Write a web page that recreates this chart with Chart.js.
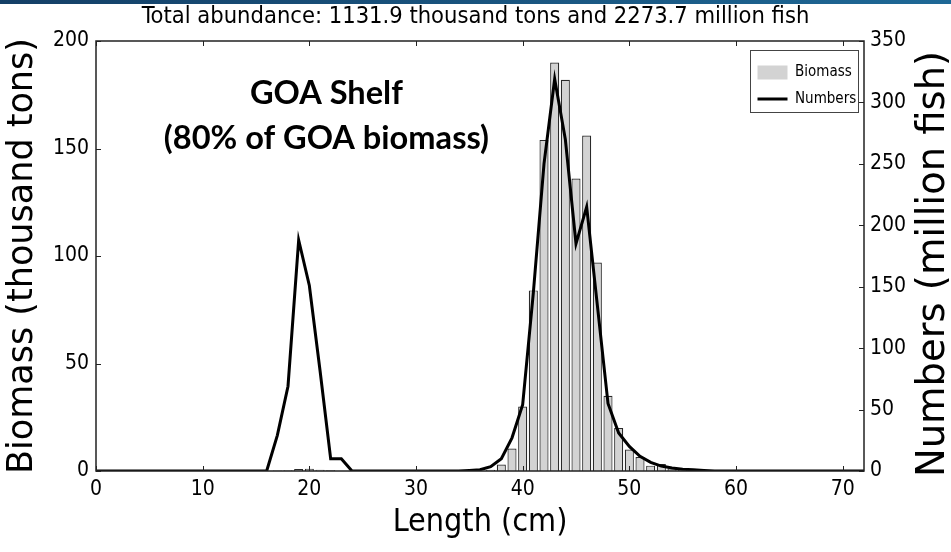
<!DOCTYPE html>
<html>
<head>
<meta charset="utf-8">
<script src="https://cdn.jsdelivr.net/npm/chart.js@4.4.0/dist/chart.umd.min.js"></script>
<style>
  html, body { margin: 0; padding: 0; background: #fff; }
  #wrap { position: absolute; left: 0; top: 0; width: 951px; height: 552px; }
  #topbar { position: absolute; left: 0; top: 0; width: 951px; height: 4px;
            background: linear-gradient(to right, #143f66, #1e6896); }
</style>
</head>
<body>
<div id="wrap"><canvas id="chart" width="951" height="552"></canvas></div>
<div id="topbar"></div>
<script>
// length bins (cm)
const lengths = [
  0, 1, 2, 3, 4, 5, 6, 7, 8, 9, 10, 11, 12, 13, 14, 15, 16, 17, 18, 19,
  20, 21, 22, 23, 24, 25, 26, 27, 28, 29, 30, 31, 32, 33, 34, 35, 36, 37, 38, 39,
  40, 41, 42, 43, 44, 45, 46, 47, 48, 49, 50, 51, 52, 53, 54, 55, 56, 57, 58, 59,
  60, 61, 62, 63, 64, 65, 66, 67, 68, 69, 70, 71, 72
];

// biomass (thousand tons) per length bin
const biomass = [
  0, 0, 0, 0, 0, 0, 0, 0, 0, 0, 0, 0, 0, 0, 0, 0, 0, 0.2, 0.4, 0.9,
  1.1, 0.6, 0.3, 0, 0, 0, 0, 0, 0, 0, 0, 0, 0, 0, 0, 0, 0, 0.6, 3, 10.5,
  30, 84, 154, 190, 182, 136, 156, 97, 35, 20, 10, 6.5, 2.5, 3.3, 1.2, 0.6, 0.3, 0, 0, 0,
  0, 0, 0, 0, 0, 0, 0, 0, 0, 0, 0, 0, 0
];

// numbers (million fish) per length bin
const numbers = [
  0, 0, 0, 0, 0, 0, 0, 0, 0, 0, 0, 0, 0, 0, 0, 0, 0, 29, 69, 188,
  151, 82, 10, 10, 0, 0, 0, 0, 0, 0, 0, 0, 0, 0, 0, 0.5, 1, 3.5, 10, 27,
  54, 145, 250, 319, 270, 185, 215, 135, 55, 31, 20, 12, 7, 4, 2.5, 1.5, 1, 0.5, 0, 0,
  0, 0, 0, 0, 0, 0, 0, 0, 0, 0, 0, 0, 0
];

const xTicks = [0, 10, 20, 30, 40, 50, 60, 70];
const biomassTicks = [0, 50, 100, 150, 200];
const numbersTicks = [0, 50, 100, 150, 200, 250, 300, 350];

const titleText = 'Total abundance: 1131.9 thousand tons and 2273.7 million fish';
const noteLines = ['GOA Shelf', '(80% of GOA biomass)'];

const COND = "'DejaVu Sans Condensed', 'DejaVu Sans', sans-serif";
const SANS = "'DejaVu Sans', sans-serif";

// frame round the plot and matplotlib-style inward ticks
const frameTicks = {
  id: 'frameTicks',
  afterDatasetsDraw(chart) {
    const ctx = chart.ctx, a = chart.chartArea;
    const x = chart.scales.x, y = chart.scales.y, y2 = chart.scales.y2;
    ctx.save();
    ctx.strokeStyle = '#222';
    ctx.lineWidth = 1.5;
    ctx.strokeRect(a.left, a.top, a.right - a.left, a.bottom - a.top);
    ctx.lineWidth = 1;
    ctx.beginPath();
    x.ticks.forEach(t => {
      const px = Math.round(x.getPixelForValue(t.value)) + 0.5;
      ctx.moveTo(px, a.bottom); ctx.lineTo(px, a.bottom - 5);
      ctx.moveTo(px, a.top); ctx.lineTo(px, a.top + 5);
    });
    y.ticks.forEach(t => {
      const py = Math.round(y.getPixelForValue(t.value)) + 0.5;
      ctx.moveTo(a.left, py); ctx.lineTo(a.left + 5, py);
    });
    y2.ticks.forEach(t => {
      const py = Math.round(y2.getPixelForValue(t.value)) + 0.5;
      ctx.moveTo(a.right, py); ctx.lineTo(a.right - 5, py);
    });
    ctx.stroke();
    ctx.restore();
  }
};

// right axis title reads bottom to top like the left one
const rightTitle = {
  id: 'rightTitle',
  afterDraw(chart) {
    const ctx = chart.ctx;
    ctx.save();
    ctx.translate(934, 264);
    ctx.rotate(-Math.PI / 2);
    ctx.font = '38.5px ' + SANS;
    ctx.fillStyle = '#000';
    ctx.textAlign = 'center';
    ctx.textBaseline = 'middle';
    ctx.fillText('Numbers (million fish)', 0, 0);
    ctx.restore();
  }
};

// bold note placed in data coordinates
const note = {
  id: 'note',
  afterDraw(chart) {
    const ctx = chart.ctx, x = chart.scales.x, y = chart.scales.y;
    const cx = x.getPixelForValue(21.6);
    ctx.save();
    ctx.font = 'bold 100px Lato, sans-serif';
    const size = 100 * 325 / ctx.measureText(noteLines[1]).width;
    ctx.font = 'bold ' + size.toFixed(1) + 'px Lato, sans-serif';
    ctx.fillStyle = '#000';
    ctx.textAlign = 'center';
    ctx.textBaseline = 'middle';
    ctx.fillText(noteLines[0], cx, y.getPixelForValue(175.5));
    ctx.fillText(noteLines[1], cx, y.getPixelForValue(154.5));
    ctx.restore();
  }
};

// move the legend to the top right corner of the plot and box it
const BOX_W = 108, BOX_H = 62;
const legendBox = {
  id: 'legendBox',
  afterLayout(chart) {
    const lg = chart.legend, a = chart.chartArea;
    const w = lg.width, h = lg.height;
    lg.left = a.right - 6 - BOX_W - 4;
    lg.right = lg.left + w;
    lg.top = a.top + 12.5;
    lg.bottom = lg.top + h;
  },
  afterDraw(chart) {
    const ctx = chart.ctx, a = chart.chartArea;
    ctx.save();
    ctx.strokeStyle = '#444';
    ctx.lineWidth = 1;
    ctx.strokeRect(Math.round(a.right - 6 - BOX_W) + 0.5, Math.round(a.top + 9) + 0.5, BOX_W, BOX_H);
    ctx.restore();
  }
};

const ctx = document.getElementById('chart').getContext('2d');
new Chart(ctx, {
  type: 'bar',
  data: {
    datasets: [
      {
        type: 'bar',
        label: 'Biomass',
        data: lengths.map((l, i) => ({ x: l, y: biomass[i] })),
        backgroundColor: '#d3d3d3',
        borderColor: '#2a2a2a',
        borderWidth: 1.2,
        barPercentage: 0.85,
        categoryPercentage: 1.0,
        yAxisID: 'y',
        order: 2
      },
      {
        type: 'line',
        label: 'Numbers',
        data: lengths.map((l, i) => ({ x: l, y: numbers[i] })),
        borderColor: '#000',
        backgroundColor: '#000',
        borderWidth: 3,
        pointRadius: 0,
        tension: 0,
        fill: false,
        yAxisID: 'y2',
        order: 1
      }
    ]
  },
  options: {
    responsive: false,
    animation: false,
    layout: { padding: 0 },
    plugins: {
      title: {
        display: true,
        text: titleText,
        color: '#000',
        font: { family: COND, size: 23.5, weight: 'normal' },
        padding: { top: 3, bottom: 9.8 }
      },
      legend: {
        position: 'chartArea',
        align: 'start',
        labels: {
          usePointStyle: true,
          pointStyleWidth: 30,
          boxHeight: 14,
          padding: 11.5,
          color: '#000',
          font: { family: COND, size: 15 },
          sort: (a, b) => a.datasetIndex - b.datasetIndex,
          generateLabels(chart) {
            const items = Chart.defaults.plugins.legend.labels.generateLabels(chart);
            items.forEach(it => {
              if (it.datasetIndex === 0) {
                it.pointStyle = 'rect';
                it.fillStyle = '#d3d3d3';
                it.lineWidth = 0;
                it.strokeStyle = 'rgba(0,0,0,0)';
              } else {
                it.pointStyle = 'line';
                it.strokeStyle = '#000';
                it.lineWidth = 3;
              }
            });
            return items;
          }
        }
      },
      tooltip: { enabled: false }
    },
    scales: {
      x: {
        type: 'linear',
        min: 0,
        max: 72,
        offset: false,
        grid: { display: false, drawTicks: false },
        border: { display: false },
        afterBuildTicks: s => { s.ticks = xTicks.map(v => ({ value: v })); },
        afterFit: s => { s.height = 81; },
        ticks: { color: '#000', padding: 6, font: { family: COND, size: 21 }, maxRotation: 0 },
        title: {
          display: true,
          text: 'Length (cm)',
          color: '#000',
          font: { family: COND, size: 32 },
          padding: { top: 0, bottom: 10 }
        }
      },
      y: {
        position: 'left',
        min: 0,
        max: 200,
        grid: { display: false, drawTicks: false },
        border: { display: false },
        afterBuildTicks: s => { s.ticks = biomassTicks.map(v => ({ value: v })); },
        afterFit: s => { s.width = 96; },
        ticks: { color: '#000', padding: 7, font: { family: COND, size: 21 } },
        title: {
          display: true,
          text: 'Biomass (thousand tons)',
          color: '#000',
          font: { family: SANS, size: 35 },
          padding: { top: 2, bottom: 0 }
        }
      },
      y2: {
        position: 'right',
        min: 0,
        max: 350,
        grid: { display: false, drawTicks: false },
        border: { display: false },
        afterBuildTicks: s => { s.ticks = numbersTicks.map(v => ({ value: v })); },
        afterFit: s => { s.width = 87; },
        ticks: { color: '#000', padding: 6, font: { family: COND, size: 21 } }
      }
    }
  },
  plugins: [frameTicks, rightTitle, note, legendBox]
});
</script>
</body>
</html>
